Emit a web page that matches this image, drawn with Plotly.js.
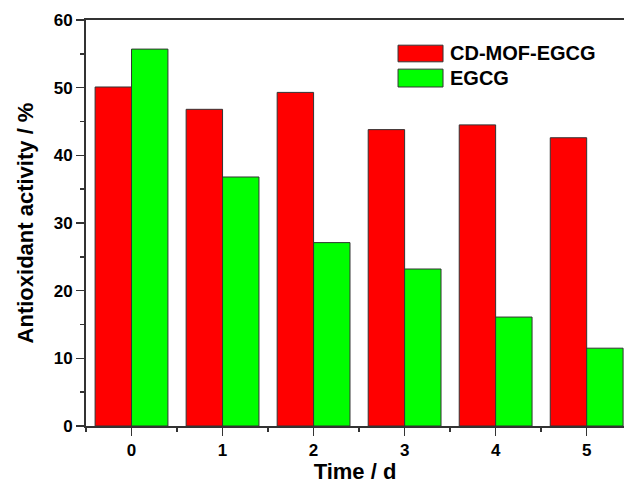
<!DOCTYPE html>
<html>
<head>
<meta charset="utf-8">
<script src="https://cdn.plot.ly/plotly-3.0.1.min.js"></script>
<style>html,body{margin:0;padding:0;overflow:hidden;background:#fff}</style>
</head>
<body>
<div id="chart" style="width:624px;height:484px"></div>
<script>
const days = [0, 1, 2, 3, 4, 5];
const cdMofEgcg = [50.1, 46.8, 49.3, 43.8, 44.5, 42.6];
const egcg = [55.7, 36.8, 27.1, 23.2, 16.1, 11.5];
const xTickLabels = ['0', '1', '2', '3', '4', '5'];
const seriesNames = ['CD-MOF-EGCG', 'EGCG'];
const seriesColors = ['#ff0000', '#00ff00'];

const fam = 'Liberation Sans, Arial, sans-serif';
const traces = [
  {type: 'bar', name: seriesNames[0], x: days, y: cdMofEgcg,
   marker: {color: seriesColors[0], line: {color: '#333', width: 1}}},
  {type: 'bar', name: seriesNames[1], x: days, y: egcg,
   marker: {color: seriesColors[1], line: {color: '#333', width: 1}}}
];

// legend drawn as rectangular swatches + text (paper coordinates)
const legY = [[0.938, 0.897], [0.879, 0.835]];
const shapes = seriesNames.map((n, i) => ({
  type: 'rect', xref: 'paper', yref: 'paper', x0: 0.580, x1: 0.6636,
  y0: legY[i][1], y1: legY[i][0], fillcolor: seriesColors[i],
  line: {color: '#333', width: 1}
}));
const annotations = seriesNames.map((n, i) => ({
  xref: 'paper', yref: 'paper', x: 0.673, y: (legY[i][0] + legY[i][1]) / 2,
  xanchor: 'left', yanchor: 'middle', showarrow: false, text: n,
  font: {family: fam, size: 20, color: '#000', weight: 'bold'}
}));

const layout = {
  width: 624, height: 484,
  margin: {l: 86, r: 0, t: 20, b: 58},
  paper_bgcolor: '#fff', plot_bgcolor: '#fff',
  barmode: 'group', bargap: 0.2, bargroupgap: 0,
  showlegend: false,
  shapes: shapes, annotations: annotations,
  xaxis: {range: [-0.5, 5.41], tickvals: days, ticktext: xTickLabels,
          showline: true, linecolor: '#333', linewidth: 2, mirror: true,
          ticks: 'outside', ticklen: 8, tickwidth: 1.5, tickcolor: '#333',
          minor: {tickvals: [-0.5, 0.5, 1.5, 2.5, 3.5, 4.5], ticks: 'outside', ticklen: 4, tickwidth: 1.5, tickcolor: '#333'},
          showgrid: false, zeroline: false,
          tickfont: {family: fam, size: 17, color: '#000', weight: 'bold'},
          title: {text: 'Time / d', standoff: 11, font: {family: fam, size: 22, color: '#000', weight: 'bold'}}},
  yaxis: {range: [0, 60], dtick: 10, showline: true, linecolor: '#333', linewidth: 2,
          ticks: 'outside', ticklen: 8, tickwidth: 1.5, tickcolor: '#333',
          minor: {dtick: 5, ticks: 'outside', ticklen: 4, tickwidth: 1.5, tickcolor: '#333'},
          showgrid: false, zeroline: false,
          tickfont: {family: fam, size: 17, color: '#000', weight: 'bold'},
          title: {text: 'Antioxidant activity / %', standoff: 14, font: {family: fam, size: 22, color: '#000', weight: 'bold'}}}
};
Plotly.newPlot('chart', traces, layout, {displayModeBar: false, staticPlot: true});
</script>
</body>
</html>
